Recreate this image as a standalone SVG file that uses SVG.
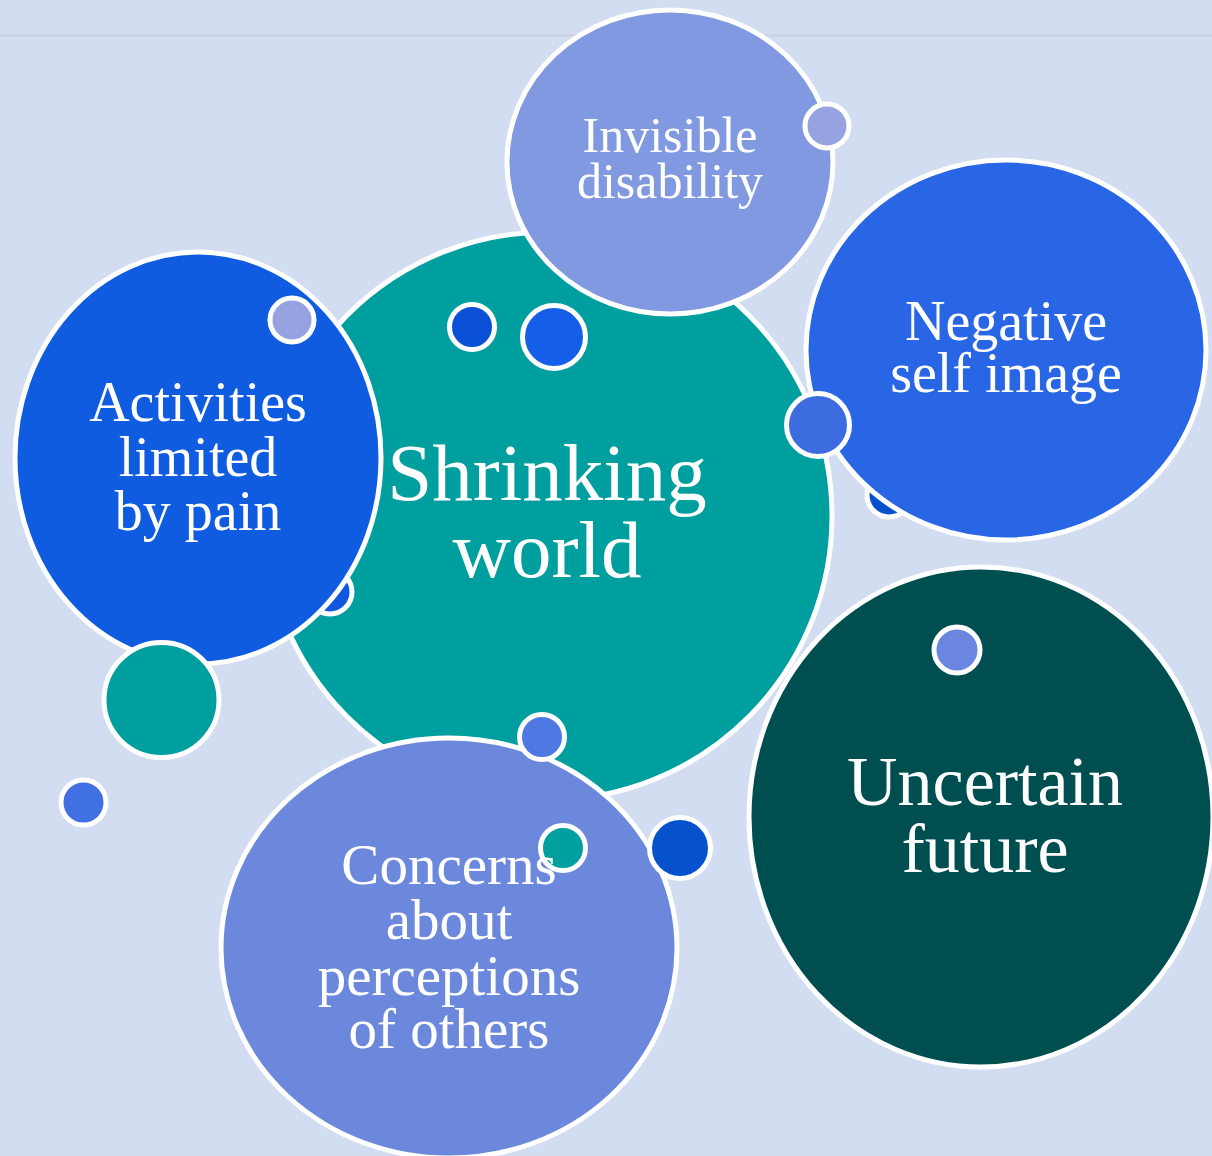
<svg xmlns="http://www.w3.org/2000/svg" width="1212" height="1156" viewBox="0 0 1212 1156">
<style>
.b{stroke:#ffffff;stroke-width:5}
.t{font-family:"Liberation Serif","DejaVu Serif",serif;fill:#ffffff;text-anchor:middle}
</style>
<rect x="0" y="0" width="1212" height="1156" fill="#d2ddf1"/>
<line x1="0" y1="35.5" x2="1212" y2="35.5" stroke="#c8d0dc" stroke-width="2"/>
<g id="connectors"></g>
<g id="node-shrinking"><circle class="b" cx="548" cy="516" r="284" fill="#009f9f"/></g>
<g id="dot-hidden-1"><circle class="b" cx="330" cy="592" r="22" fill="#1156e0"/></g>
<g id="dot-hidden-2"><circle class="b" cx="889" cy="495" r="22" fill="#0652cc"/></g>
<g id="node-invisible"><ellipse class="b" cx="670" cy="162" rx="163" ry="152" fill="#8199e0"/></g>
<g id="node-negative"><ellipse class="b" cx="1006" cy="350" rx="200" ry="190" fill="#2866e6"/></g>
<g id="node-activities"><ellipse class="b" cx="198" cy="458" rx="183" ry="206" fill="#0f5ce1"/></g>
<g id="node-concerns"><ellipse class="b" cx="449" cy="948" rx="228" ry="210" fill="#6b88dd"/></g>
<g id="node-uncertain"><ellipse class="b" cx="981" cy="817" rx="232" ry="250" fill="#004f50"/></g>
<g id="dots">
<circle class="b" cx="827" cy="126" r="22" fill="#97a3e0"/>
<circle class="b" cx="292" cy="320" r="22" fill="#97a3e0"/>
<circle class="b" cx="472" cy="327" r="22.5" fill="#0a50d6"/>
<circle class="b" cx="554" cy="337" r="31.5" fill="#155ee8"/>
<circle class="b" cx="818" cy="425" r="31.5" fill="#3c6ce0"/>
<circle class="b" cx="161.5" cy="700" r="57.5" fill="#009f9f"/>
<circle class="b" cx="83.5" cy="802.5" r="22.5" fill="#4170e2"/>
<circle class="b" cx="542" cy="737" r="22.5" fill="#4f78e2"/>
<circle class="b" cx="563" cy="848" r="22.5" fill="#00a09e"/>
<circle class="b" cx="680" cy="848" r="30.5" fill="#0552cc"/>
<circle class="b" cx="957" cy="650" r="23" fill="#6a86e0"/>
</g>
<g id="labels">
<text class="t" font-size="50" x="670"><tspan x="670" y="152">Invisible</tspan><tspan x="670" y="198">disability</tspan></text>
<text class="t" font-size="56" x="1006"><tspan x="1006" y="340">Negative</tspan><tspan x="1006" y="392">self image</tspan></text>
<text class="t" font-size="56" x="198"><tspan x="198" y="421">Activities</tspan><tspan x="198" y="476">limited</tspan><tspan x="198" y="530">by pain</tspan></text>
<text class="t" font-size="81" x="547"><tspan x="547" y="500">Shrinking</tspan><tspan x="547" y="577">world</tspan></text>
<text class="t" font-size="70" x="985"><tspan x="985" y="805">Uncertain</tspan><tspan x="985" y="872">future</tspan></text>
<text class="t" font-size="57" x="449"><tspan x="449" y="884">Concerns</tspan><tspan x="449" y="939">about</tspan><tspan x="449" y="995">perceptions</tspan><tspan x="449" y="1048">of others</tspan></text>
</g>
</svg>
